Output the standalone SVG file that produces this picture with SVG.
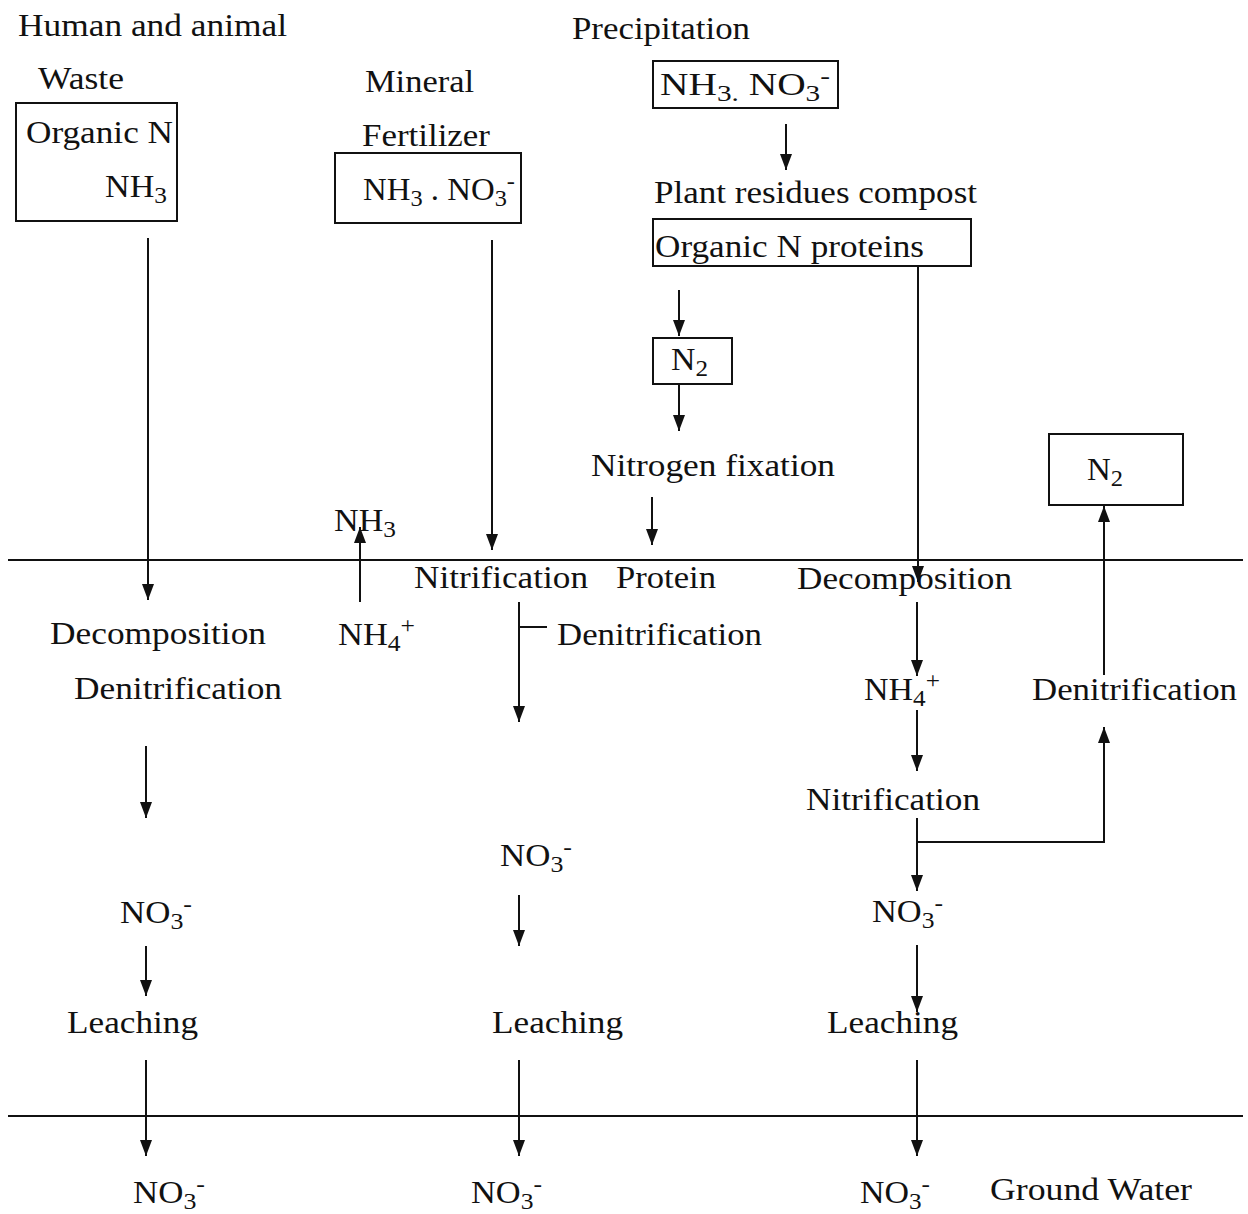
<svg xmlns="http://www.w3.org/2000/svg" width="1248" height="1214" viewBox="0 0 1248 1214">
<style>
text{font-family:"Liberation Serif","Times New Roman",serif;font-size:31px;fill:#111}
.b{fill:none;stroke:#111;stroke-width:2}
.c line,.c path{stroke:#111;stroke-width:2;fill:none}
.s{font-size:23px}
</style>
<defs>
<marker id="d" viewBox="0 0 12 16" refX="6" refY="16" markerWidth="12" markerHeight="16" orient="0" markerUnits="userSpaceOnUse">
<path d="M0,0 L12,0 L6,16 Z" fill="#111"/>
</marker>
<marker id="u" viewBox="0 0 12 16" refX="6" refY="0" markerWidth="12" markerHeight="16" orient="0" markerUnits="userSpaceOnUse">
<path d="M0,16 L12,16 L6,0 Z" fill="#111"/>
</marker>
</defs>

<g id="labels">
<text x="18" y="36" textLength="269" lengthAdjust="spacingAndGlyphs">Human and animal</text>
<text x="38" y="89" textLength="86" lengthAdjust="spacingAndGlyphs">Waste</text>
<text x="365" y="92" textLength="109" lengthAdjust="spacingAndGlyphs">Mineral</text>
<text x="362" y="146" textLength="128" lengthAdjust="spacingAndGlyphs">Fertilizer</text>
<text x="572" y="39" textLength="178" lengthAdjust="spacingAndGlyphs">Precipitation</text>
<text x="654" y="203" textLength="323" lengthAdjust="spacingAndGlyphs">Plant residues compost</text>
<text x="591" y="476" textLength="244" lengthAdjust="spacingAndGlyphs">Nitrogen fixation</text>
</g>

<g id="box-waste">
<rect class="b" x="16" y="103" width="161" height="118"/>
<text x="26" y="143" textLength="147" lengthAdjust="spacingAndGlyphs">Organic N</text>
<text x="105" y="197" textLength="62" lengthAdjust="spacingAndGlyphs">NH<tspan class="s" dy="6">3</tspan></text>
</g>

<g id="box-fertilizer">
<rect class="b" x="335" y="153" width="186" height="70"/>
<text x="363" y="200" textLength="152" lengthAdjust="spacingAndGlyphs">NH<tspan class="s" dy="6">3</tspan><tspan dy="-6"> . NO</tspan><tspan class="s" dy="6">3</tspan><tspan class="s" dy="-17">-</tspan></text>
</g>

<g id="box-precip">
<rect class="b" x="653" y="61" width="185" height="47"/>
<text x="660" y="95" textLength="170" lengthAdjust="spacingAndGlyphs">NH<tspan class="s" dy="6">3.</tspan><tspan dy="-6"> NO</tspan><tspan class="s" dy="6">3</tspan><tspan class="s" dy="-17">-</tspan></text>
</g>

<g id="box-organic">
<rect class="b" x="653" y="219" width="318" height="47"/>
<text x="655" y="257" textLength="269" lengthAdjust="spacingAndGlyphs">Organic N proteins</text>
</g>

<g id="box-n2-a">
<rect class="b" x="653" y="338" width="79" height="46"/>
<text x="671" y="370" textLength="37" lengthAdjust="spacingAndGlyphs">N<tspan class="s" dy="6">2</tspan></text>
</g>

<g id="box-n2-b">
<rect class="b" x="1049" y="434" width="134" height="71"/>
<text x="1087" y="480" textLength="36" lengthAdjust="spacingAndGlyphs">N<tspan class="s" dy="6">2</tspan></text>
</g>

<g id="surface">
<line class="b" x1="8" y1="560" x2="1243" y2="560"/>
<line class="b" x1="8" y1="1116" x2="1243" y2="1116"/>
</g>

<g id="soil-labels">
<text x="334" y="531" textLength="62" lengthAdjust="spacingAndGlyphs">NH<tspan class="s" dy="6">3</tspan></text>
<text x="414" y="588" textLength="174" lengthAdjust="spacingAndGlyphs">Nitrification</text>
<text x="616" y="588" textLength="100" lengthAdjust="spacingAndGlyphs">Protein</text>
<text x="797" y="589" textLength="215" lengthAdjust="spacingAndGlyphs">Decomposition</text>
<text x="50" y="644" textLength="216" lengthAdjust="spacingAndGlyphs">Decomposition</text>
<text x="338" y="645" textLength="77" lengthAdjust="spacingAndGlyphs">NH<tspan class="s" dy="6">4</tspan><tspan class="s" dy="-18">+</tspan></text>
<text x="557" y="645" textLength="205" lengthAdjust="spacingAndGlyphs">Denitrification</text>
<text x="74" y="699" textLength="208" lengthAdjust="spacingAndGlyphs">Denitrification</text>
<text x="864" y="700" textLength="76" lengthAdjust="spacingAndGlyphs">NH<tspan class="s" dy="6">4</tspan><tspan class="s" dy="-18">+</tspan></text>
<text x="1032" y="700" textLength="205" lengthAdjust="spacingAndGlyphs">Denitrification</text>
<text x="806" y="810" textLength="174" lengthAdjust="spacingAndGlyphs">Nitrification</text>
<text x="500" y="866" textLength="72" lengthAdjust="spacingAndGlyphs">NO<tspan class="s" dy="6">3</tspan><tspan class="s" dy="-17">-</tspan></text>
<text x="120" y="923" textLength="72" lengthAdjust="spacingAndGlyphs">NO<tspan class="s" dy="6">3</tspan><tspan class="s" dy="-17">-</tspan></text>
<text x="872" y="922" textLength="71" lengthAdjust="spacingAndGlyphs">NO<tspan class="s" dy="6">3</tspan><tspan class="s" dy="-17">-</tspan></text>
<text x="67" y="1033" textLength="131" lengthAdjust="spacingAndGlyphs">Leaching</text>
<text x="492" y="1033" textLength="131" lengthAdjust="spacingAndGlyphs">Leaching</text>
<text x="827" y="1033" textLength="131" lengthAdjust="spacingAndGlyphs">Leaching</text>
</g>

<g id="groundwater">
<text x="133" y="1203" textLength="72" lengthAdjust="spacingAndGlyphs">NO<tspan class="s" dy="6">3</tspan><tspan class="s" dy="-17">-</tspan></text>
<text x="471" y="1203" textLength="71" lengthAdjust="spacingAndGlyphs">NO<tspan class="s" dy="6">3</tspan><tspan class="s" dy="-17">-</tspan></text>
<text x="860" y="1203" textLength="70" lengthAdjust="spacingAndGlyphs">NO<tspan class="s" dy="6">3</tspan><tspan class="s" dy="-17">-</tspan></text>
<text x="990" y="1200" textLength="202" lengthAdjust="spacingAndGlyphs">Ground Water</text>
</g>

<g id="connectors" class="c">
<line x1="786" y1="124" x2="786" y2="170" marker-end="url(#d)"/>
<line x1="918" y1="266" x2="918" y2="582" marker-end="url(#d)"/>
<line x1="679" y1="290" x2="679" y2="336" marker-end="url(#d)"/>
<line x1="679" y1="384" x2="679" y2="431" marker-end="url(#d)"/>
<line x1="652" y1="497" x2="652" y2="545" marker-end="url(#d)"/>
<line x1="148" y1="238" x2="148" y2="600" marker-end="url(#d)"/>
<line x1="492" y1="240" x2="492" y2="550" marker-end="url(#d)"/>
<line x1="360" y1="602" x2="360" y2="527" marker-end="url(#u)"/>
<path d="M519,602 L519,722" marker-end="url(#d)"/>
<line x1="519" y1="627" x2="547" y2="627"/>
<line x1="917" y1="602" x2="917" y2="676" marker-end="url(#d)"/>
<line x1="1104" y1="675" x2="1104" y2="506" marker-end="url(#u)"/>
<line x1="917" y1="710" x2="917" y2="771" marker-end="url(#d)"/>
<path d="M917,842 L1104,842 L1104,727" marker-end="url(#u)"/>
<line x1="917" y1="818" x2="917" y2="891" marker-end="url(#d)"/>
<line x1="146" y1="746" x2="146" y2="818" marker-end="url(#d)"/>
<line x1="519" y1="895" x2="519" y2="946" marker-end="url(#d)"/>
<line x1="146" y1="946" x2="146" y2="996" marker-end="url(#d)"/>
<line x1="917" y1="945" x2="917" y2="1012" marker-end="url(#d)"/>
<line x1="146" y1="1060" x2="146" y2="1156" marker-end="url(#d)"/>
<line x1="519" y1="1060" x2="519" y2="1156" marker-end="url(#d)"/>
<line x1="917" y1="1060" x2="917" y2="1156" marker-end="url(#d)"/>
</g>
</svg>
